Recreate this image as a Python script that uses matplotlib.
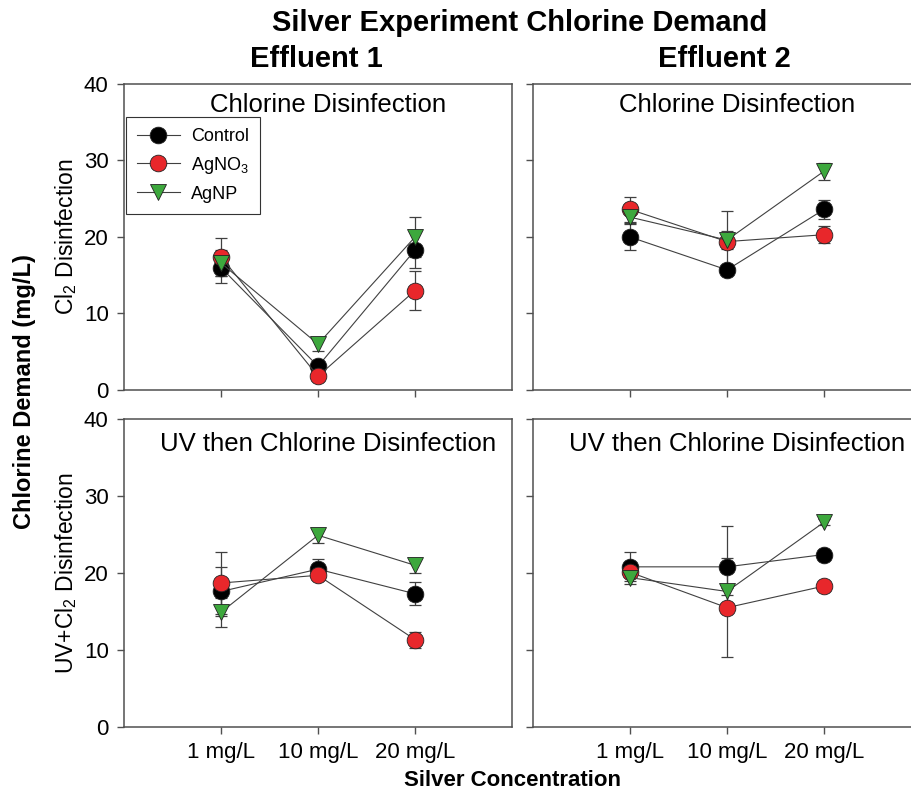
'''
Silver experiment chlorine demand: 2x2 panels of mean +/- sd
for three silver treatments at three concentrations.
'''

import numpy as np
import matplotlib
matplotlib.use('Agg')
import matplotlib.pyplot as plt

plt.rcParams['font.family'] = ['Liberation Sans', 'DejaVu Sans']
plt.rcParams['mathtext.fontset'] = 'custom'
plt.rcParams['mathtext.rm'] = 'Liberation Sans'

# x axis categories
conc_labels = ['1 mg/L', '10 mg/L', '20 mg/L']
conc_pos = [1, 2, 3]

series_names = ['Control', 'AgNO$_\\mathregular{3}$', 'AgNP']

# Effluent 1, chlorine only
e1_cl_control = [16.0, 3.1, 18.3]
e1_cl_control_sd = [2.0, 0.5, 2.3]
e1_cl_agno3 = [17.4, 1.8, 13.0]
e1_cl_agno3_sd = [2.5, 0.3, 2.6]
e1_cl_agnp = [16.6, 6.0, 20.0]
e1_cl_agnp_sd = [1.7, 0.9, 2.6]

# Effluent 2, chlorine only
e2_cl_control = [20.0, 15.7, 23.6]
e2_cl_control_sd = [1.7, 0.5, 1.2]
e2_cl_agno3 = [23.6, 19.4, 20.3]
e2_cl_agno3_sd = [1.6, 4.0, 1.1]
e2_cl_agnp = [22.6, 19.6, 28.6]
e2_cl_agnp_sd = [0.8, 1.2, 1.1]

# Effluent 1, UV then chlorine
e1_uv_control = [17.6, 20.5, 17.3]
e1_uv_control_sd = [3.2, 1.3, 1.5]
e1_uv_agno3 = [18.7, 19.7, 11.35]
e1_uv_agno3_sd = [4.0, 0.4, 1.05]
e1_uv_agnp = [14.9, 24.9, 21.0]
e1_uv_agnp_sd = [1.9, 1.0, 0.95]

# Effluent 2, UV then chlorine
e2_uv_control = [20.8, 20.8, 22.4]
e2_uv_control_sd = [1.9, 5.3, 0.4]
e2_uv_agno3 = [20.1, 15.5, 18.3]
e2_uv_agno3_sd = [0.5, 6.4, 0.4]
e2_uv_agnp = [19.4, 17.6, 26.6]
e2_uv_agnp_sd = [0.8, 0.5, 0.4]

colors = ['black', '#e8272b', '#3da83d']
markers = ['o', 'o', 'v']
spine_col = '#505050'
line_col = '#404040'

fig = plt.figure(figsize=(9.12, 7.96), dpi=100)

W, H = 912.0, 796.0
def add_axes(left, top, right, bottom):
    # pixel box -> figure fraction
    return fig.add_axes([left / W, 1 - bottom / H, (right - left) / W, (bottom - top) / H])

ax_tl = add_axes(124, 84, 512, 390)
ax_tr = add_axes(533, 84, 921, 390)
ax_bl = add_axes(124, 419, 512, 727)
ax_br = add_axes(533, 419, 921, 727)

panels = [
    (ax_tl, [e1_cl_control, e1_cl_agno3, e1_cl_agnp],
     [e1_cl_control_sd, e1_cl_agno3_sd, e1_cl_agnp_sd], 'Chlorine Disinfection', 0.91),
    (ax_tr, [e2_cl_control, e2_cl_agno3, e2_cl_agnp],
     [e2_cl_control_sd, e2_cl_agno3_sd, e2_cl_agnp_sd], 'Chlorine Disinfection', 0.91),
    (ax_bl, [e1_uv_control, e1_uv_agno3, e1_uv_agnp],
     [e1_uv_control_sd, e1_uv_agno3_sd, e1_uv_agnp_sd], 'UV then Chlorine Disinfection', 0.895),
    (ax_br, [e2_uv_control, e2_uv_agno3, e2_uv_agnp],
     [e2_uv_control_sd, e2_uv_agno3_sd, e2_uv_agnp_sd], 'UV then Chlorine Disinfection', 0.895),
]

for ax, vals, sds, ttl, ty in panels:
    for i in range(3):
        ax.errorbar(conc_pos, vals[i], yerr=sds[i], fmt='none', ecolor=line_col,
                    elinewidth=0.9, capsize=4.5, capthick=0.9, zorder=2)
    for i in range(3):
        ax.plot(conc_pos, vals[i], color=line_col, lw=0.8, marker=markers[i],
                markersize=12, markerfacecolor=colors[i], markeredgecolor='#222222',
                markeredgewidth=0.6, label=series_names[i], zorder=3 + i)
    ax.set_xlim(0, 4)
    ax.set_ylim(0, 40)
    ax.set_yticks([0, 10, 20, 30, 40])
    ax.set_xticks(conc_pos)
    ax.text(0.525, ty, ttl, transform=ax.transAxes, ha='center', va='baseline',
            fontsize=18.5)
    for s in ax.spines.values():
        s.set_color(spine_col)
        s.set_linewidth(1.1)
    ax.tick_params(direction='out', length=5, width=1, color=spine_col,
                   labelsize=16, pad=6)

# labels only on the outer edges
ax_tl.set_xticklabels([])
ax_tr.set_xticklabels([])
ax_tr.set_yticklabels([])
ax_br.set_yticklabels([])
ax_bl.set_xticklabels(conc_labels)
ax_br.set_xticklabels(conc_labels)

ax_tl.text(-0.15, 0.5, 'Cl$_\\mathregular{2}$ Disinfection', transform=ax_tl.transAxes,
           rotation=90, ha='center', va='center', fontsize=16.5)
ax_bl.text(-0.15, 0.5, 'UV+Cl$_\\mathregular{2}$ Disinfection', transform=ax_bl.transAxes,
           rotation=90, ha='center', va='center', fontsize=16.5)

leg = ax_tl.legend(loc='upper left', bbox_to_anchor=(0.005, 0.892), borderaxespad=0,
                   fontsize=13, handlelength=2.4, handletextpad=0.6,
                   labelspacing=0.55, fancybox=False, framealpha=1,
                   edgecolor='#333333', borderpad=0.6)
leg.get_frame().set_linewidth(0.8)

fig.text(520 / W, 1 - 23 / H, 'Silver Experiment Chlorine Demand', ha='center',
         va='center', fontsize=21, fontweight='bold')
fig.text(316 / W, 1 - 59 / H, 'Effluent 1', ha='center', va='center',
         fontsize=21, fontweight='bold')
fig.text(724 / W, 1 - 59 / H, 'Effluent 2', ha='center', va='center',
         fontsize=21, fontweight='bold')
fig.text(25 / W, 1 - 392 / H, 'Chlorine Demand (mg/L)', rotation=90, ha='center',
         va='center', fontsize=17, fontweight='bold')
fig.text(513 / W, 1 - 781 / H, 'Silver Concentration', ha='center', va='center',
         fontsize=16, fontweight='bold')

fig.savefig('out.png', dpi=100)
